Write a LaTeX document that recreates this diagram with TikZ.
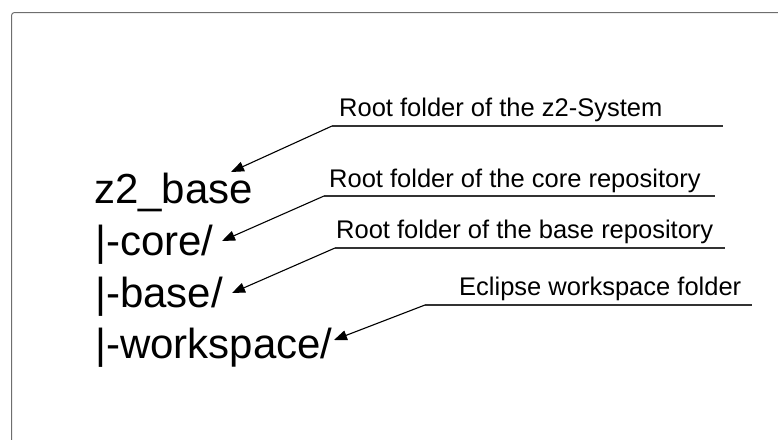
\documentclass[tikz,border=0pt]{standalone}
\usepackage{fontspec}
\setmainfont{Liberation Sans}
\usetikzlibrary{arrows.meta}
\definecolor{framegray}{HTML}{6E6E6E}
\definecolor{rulegray}{HTML}{333333}
\tikzset{
  tree/.style={anchor=base west, inner sep=0pt, font=\fontsize{42}{46}\selectfont},
  note/.style={anchor=base west, inner sep=0pt, font=\fontsize{25.5}{29}\selectfont},
  pointer/.style={line width=1.1pt, -{Triangle[length=13pt,width=10pt]}},
  underline/.style={line width=1.6pt, draw=rulegray},
}
\begin{document}
\begin{tikzpicture}[x=1pt,y=-1pt]
\useasboundingbox (0,0) rectangle (778,439);
\begin{scope}
\clip (0,0) rectangle (778,439);
\draw[framegray, line width=1pt, rounded corners=3pt] (11.5,12.5) rectangle (800,460);
\end{scope}

% directory tree
\node[tree] (z2)   at (94,203) {z2\_base};
\node[tree] (core) at (95,255) {|-core/};
\node[tree] (base) at (95,307) {|-base/};
\node[tree] (ws)   at (95,358) {|-workspace/};

% explanatory notes
\node[note] (n1) at (339,116) {Root folder of the z2-System};
\node[note] (n2) at (329,187) {Root folder of the core repository};
\node[note] (n3) at (336,238) {Root folder of the base repository};
\node[note] (n4) at (459,295) {Eclipse workspace folder};

% underline ends
\coordinate (u1) at (332,126); \coordinate (e1) at (723,126);
\coordinate (u2) at (324,196); \coordinate (e2) at (715,196);
\coordinate (u3) at (335,248); \coordinate (e3) at (725,248);
\coordinate (u4) at (425,305); \coordinate (e4) at (752,305);

% arrow targets next to the tree entries
\coordinate (t1) at (231,172);
\coordinate (t2) at (222,241);
\coordinate (t3) at (232,293);
\coordinate (t4) at (334,340);

\foreach \i in {1,2,3,4}{
  \draw[underline] (u\i) -- (e\i);
  \draw[pointer] (u\i) -- (t\i);
}
\end{tikzpicture}
\end{document}
